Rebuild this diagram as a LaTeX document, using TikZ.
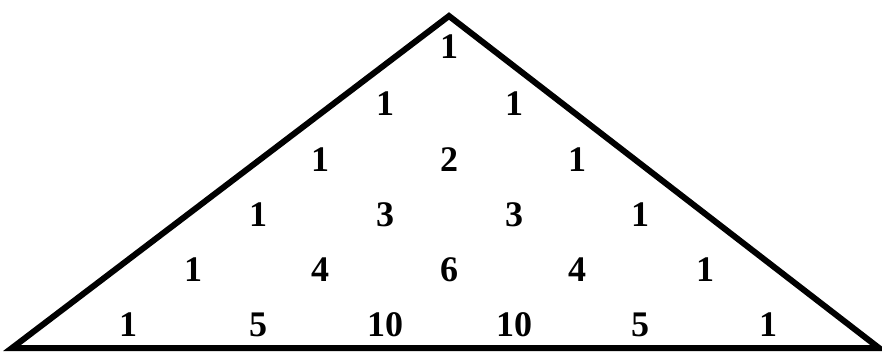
\documentclass[tikz,border=0pt]{standalone}
\usepackage{fontspec}
\setmainfont{Liberation Serif}
\begin{document}
\begin{tikzpicture}[x=1pt, y=-1pt, line width=6pt,
    entry/.style={font=\fontsize{36}{40}\selectfont\bfseries, inner sep=0pt}]

  \useasboundingbox (0,0) rectangle (882,351);

  % -- Outline --
  \coordinate (apex) at (449,16);
  \coordinate (left) at (12,348);
  \coordinate (right) at (879,348);
  \draw[line join=miter] (apex) -- (right) -- (left) -- cycle;

  % -- Row 0 --
  \node[entry] (r0c0) at (449,47) {1};

  % -- Row 1 --
  \node[entry] (r1c0) at (385,104) {1};
  \node[entry] (r1c1) at (514,104) {1};

  % -- Row 2 --
  \node[entry] (r2c0) at (320,160) {1};
  \node[entry] (r2c1) at (449,160) {2};
  \node[entry] (r2c2) at (577,160) {1};

  % -- Row 3 --
  \node[entry] (r3c0) at (258,215) {1};
  \node[entry] (r3c1) at (385,215) {3};
  \node[entry] (r3c2) at (514,215) {3};
  \node[entry] (r3c3) at (640,215) {1};

  % -- Row 4 --
  \node[entry] (r4c0) at (193,270) {1};
  \node[entry] (r4c1) at (320,270) {4};
  \node[entry] (r4c2) at (449,270) {6};
  \node[entry] (r4c3) at (577,270) {4};
  \node[entry] (r4c4) at (705,270) {1};

  % -- Row 5 --
  \node[entry] (r5c0) at (128,325) {1};
  \node[entry] (r5c1) at (258,325) {5};
  \node[entry] (r5c2) at (385,325) {10};
  \node[entry] (r5c3) at (514,325) {10};
  \node[entry] (r5c4) at (640,325) {5};
  \node[entry] (r5c5) at (768,325) {1};

\end{tikzpicture}
\end{document}
